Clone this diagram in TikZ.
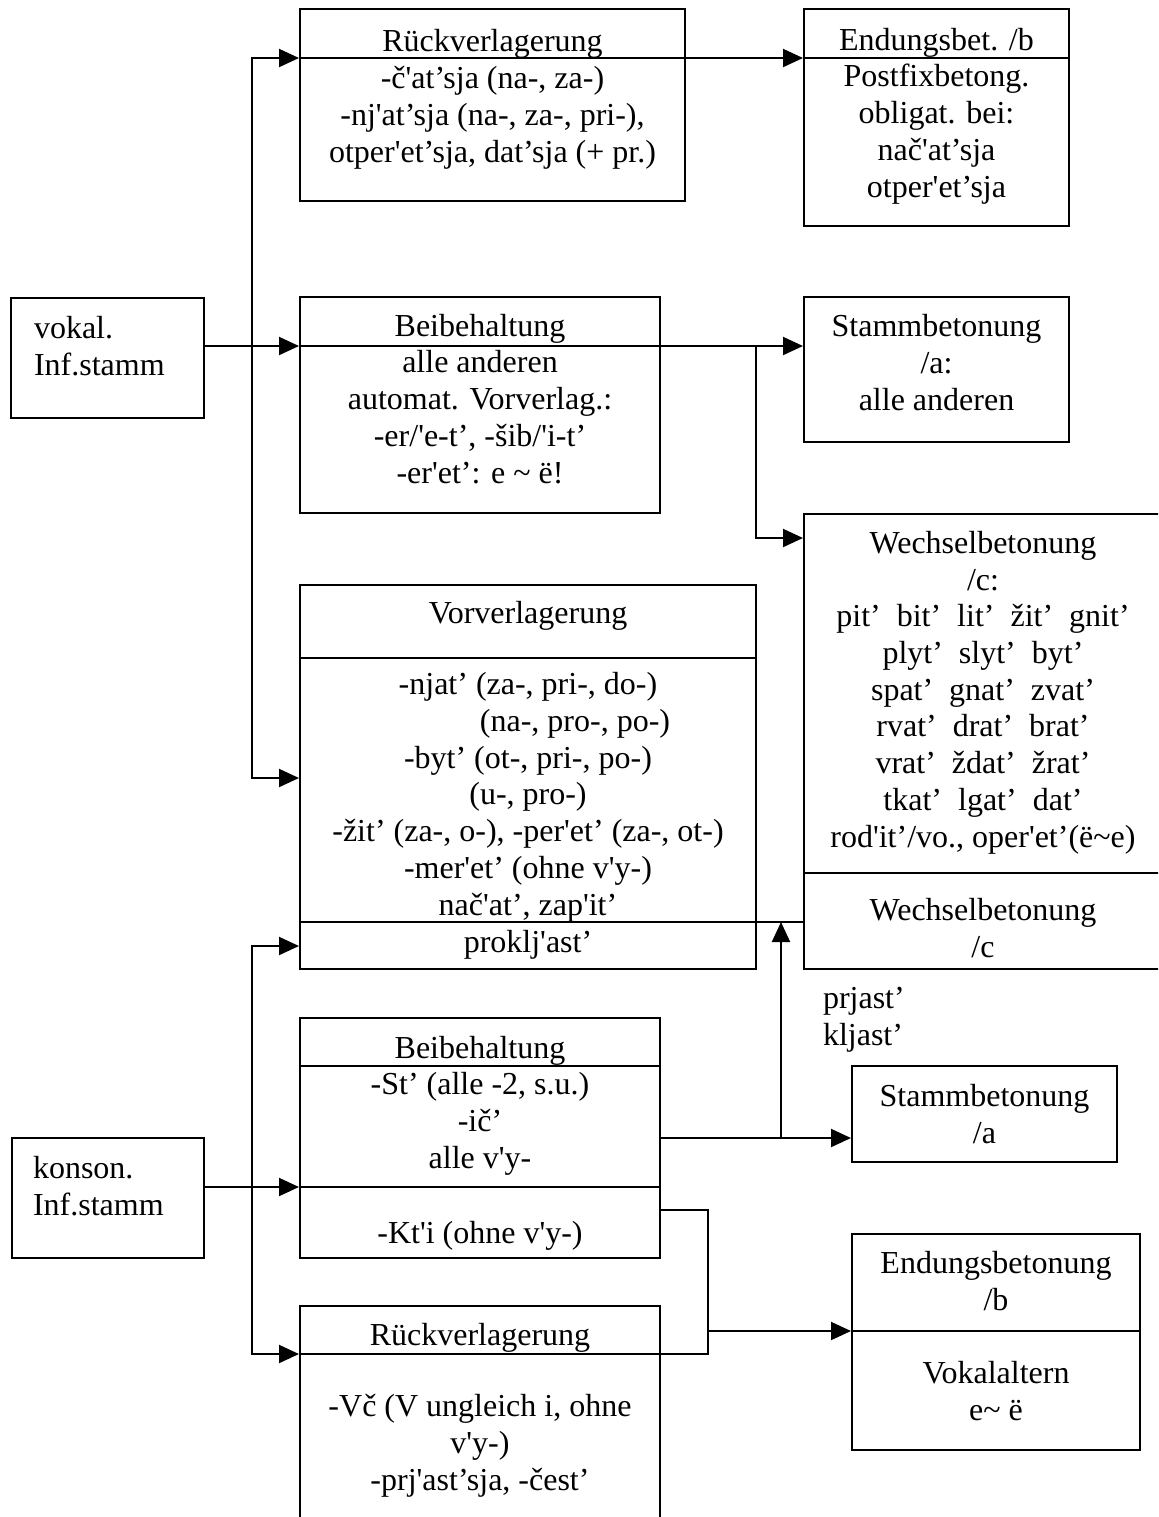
\documentclass[tikz,border=0pt]{standalone}
\usepackage{fontspec}
\setmainfont{Liberation Serif}[Ligatures=TeXOff]
\usetikzlibrary{arrows.meta}
\usetikzlibrary{fit}
\usetikzlibrary{positioning}
\tikzstyle{box} = [draw, rectangle, inner sep=0pt]
\tikzstyle{txt} = [anchor=base, align=center, inner sep=0pt]
\tikzstyle{lefttxt} = [anchor=base west, align=left, inner sep=0pt]

\begin{document}
\begin{tikzpicture}[
  x=0.5pt, y=-0.5pt,
  line width=1pt,
  every node/.style={font=\fontsize{16pt}{18.35pt}\selectfont},
  >={Triangle[length=10pt,width=9pt]},
]
\useasboundingbox (0,0) rectangle (1158,1517);
\clip (0,0) rectangle (1158,1517);

\node[box, fit={(300,9)(685,201)}] (rvA) {};
\node[box, fit={(804,9)(1069,226)}] (endA) {};
\node[box, fit={(11,298)(204,418)}] (vok) {};
\node[box, fit={(300,297)(660,513)}] (beibA) {};
\node[box, fit={(804,297)(1069,442)}] (stA) {};
\node[box, fit={(804,514)(1170,969)}] (wech) {};
\node[box, fit={(300,585)(756,969)}] (vv) {};
\node[box, fit={(300,1018)(660,1258)}] (beibB) {};
\node[box, fit={(12,1138)(204,1258)}] (kon) {};
\node[box, fit={(852,1066)(1117,1162)}] (stB) {};
\node[box, fit={(852,1234)(1140,1450)}] (endB) {};
\node[box, fit={(300,1306)(660,1540)}] (rvB) {};

\coordinate (jA) at (252,346);
\coordinate (jB) at (756,346);
\coordinate (jC) at (781,1138);
\coordinate (jD) at (252,1187);
\coordinate (jE) at (708,1331);

\draw (vok.east |- jA) -- (jA);
\draw[->] (jA) |- (rvA.west |- 0,58);
\draw[->] (jA) -- (jA -| beibA.west);
\draw[->] (jA) |- (vv.west |- 0,778);
\draw[->] (rvA.west |- 0,58) -- (endA.west |- 0,58);
\draw (endA.west |- 0,58) -- (endA.east |- 0,58);
\draw (jA -| beibA.west) -- (jB);
\draw[->] (jB) -- (jB -| stA.west);
\draw[->] (jB) |- (wech.west |- 0,538);
\draw (vv.west |- 0,658) -- (vv.east |- 0,658);
\draw (vv.west |- 0,922) -- (wech.west |- 0,922);
\draw (wech.west |- 0,873) -- (wech.east |- 0,873);
\draw[->] (jC) -- (jC |- 0,922);
\draw[->] (beibB.east |- jC) -- (jC -| stB.west);
\draw (kon.east |- jD) -- (jD);
\draw[->] (jD) -- (jD -| beibB.west);
\draw (jD -| beibB.west) -- (jD -| beibB.east);
\draw (beibB.west |- 0,1066) -- (beibB.east |- 0,1066);
\draw[->] (jD) |- (vv.west |- 0,946);
\draw[->] (jD) |- (rvB.west |- 0,1354);
\draw (rvB.west |- 0,1354) -- (jE |- 0,1354) -- (jE |- 0,1210) -- (beibB.east |- 0,1210);
\draw[->] (jE) -- (jE -| endB.west);
\draw (endB.west |- jE) -- (endB.east |- jE);

\node[txt] (rvAt) at (rvA.north |- 0,162) {Rückverlagerung\\-č'at’sja (na-, za-)\\-nj'at’sja (na-, za-, pri-),\\otper'et’sja, dat’sja (+ pr.)};
\node[txt] (endAt) at (endA.north |- 0,197) {Endungsbet. /b\\Postfixbetong.\\obligat. bei:\\nač'at’sja\\otper'et’sja};
\node[lefttxt] (vokt) at (33,375) {vokal.\\Inf.stamm};
\node[txt] (beibAt) at (beibA.north |- 0,483) {Beibehaltung\\alle anderen\\automat. Vorverlag.:\\-er/'e-t’, -šib/'i-t’\\-er'et’: e \textasciitilde{} ë!};
\node[txt] (stAt) at (stA.north |- 0,410) {Stammbetonung\\/a:\\alle anderen};
\node[txt] (wecht) at (983,847) {Wechselbetonung\\/c:\\pit’ \ bit’ \ lit’ \ žit’ \ gnit’\\plyt’ \ slyt’ \ byt’\\spat’ \ gnat’ \ zvat’\\rvat’ \ drat’ \ brat’\\vrat’ \ ždat’ \ žrat’\\tkat’ \ lgat’ \ dat’\\rod'it’/vo., oper'et’(ë\textasciitilde e)};
\node[txt] (wechu) at (983,957) {Wechselbetonung\\/c};
\node[txt] (vvt) at (vv.north |- 0,623) {Vorverlagerung};
\node[txt] (vvb) at (vv.north |- 0,915) {-njat’ (za-, pri-, do-)\\\hspace*{47pt}(na-, pro-, po-)\\-byt’ (ot-, pri-, po-)\\(u-, pro-)\\-žit’ (za-, o-), -per'et’ (za-, ot-)\\-mer'et’ (ohne v'y-)\\nač'at’, zap'it’};
\node[txt] (vvc) at (vv.north |- 0,952) {proklj'ast’};
\node[lefttxt] (prj) at (822,1045) {prjast’\\kljast’};
\node[txt] (beibBt) at (beibB.north |- 0,1058) {Beibehaltung};
\node[txt] (beibBb) at (beibB.north |- 0,1168) {-St’ (alle -2, s.u.)\\-ič’\\alle v'y-};
\node[txt] (beibBc) at (beibB.north |- 0,1243) {-Kt'i (ohne v'y-)};
\node[lefttxt] (kont) at (32,1215) {konson.\\Inf.stamm};
\node[txt] (stBt) at (stB.north |- 0,1143) {Stammbetonung\\/a};
\node[txt] (endBt) at (endB.north |- 0,1310) {Endungsbetonung\\/b};
\node[txt] (endBb) at (endB.north |- 0,1420) {Vokalaltern\\e\textasciitilde{} ë};
\node[txt] (rvBt) at (rvB.north |- 0,1345) {Rückverlagerung};
\node[txt] (rvBb) at (rvB.north |- 0,1490) {-Vč (V ungleich i, ohne\\v'y-)\\-prj'ast’sja, -čest’};
\end{tikzpicture}
\end{document}
